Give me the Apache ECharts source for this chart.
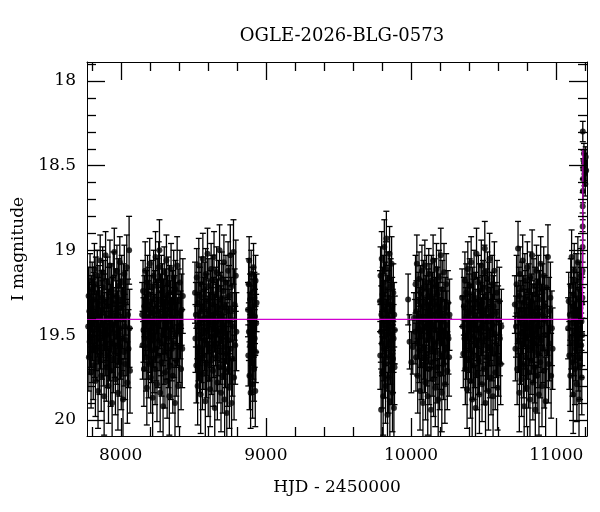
<!DOCTYPE html>
<html>
<head>
<meta charset="utf-8">
<script src="https://cdn.jsdelivr.net/npm/echarts@6.0.0/dist/echarts.min.js"></script>
<style>
  html, body { margin: 0; padding: 0; background: #fff; }
  #chart { width: 600px; height: 512px; }
</style>
</head>
<body>
<div id="chart"></div>
<script>
// OGLE I-band photometry: [HJD-2450000, I mag, error]
var season1 = [[7776,19.45,.18],[7779,19.27,.17],[7781,19.63,.2],[7784,19.36,.17],[7786,19.54,.19],[7789,19.18,.16],[7791,19.51,.18],[7794,19.40,.17],[7796,19.72,.21],[7799,19.31,.16],
  [7801,19.59,.19],[7804,19.23,.16],[7806,19.47,.18],[7809,19.34,.17],[7811,19.68,.2],[7814,19.29,.16],[7816,19.43,.17],[7819,19.11,.15],[7821,19.56,.19],[7824,19.38,.17],
  [7826,19.77,.21],[7829,19.20,.16],[7831,19.53,.18],[7834,19.41,.17],[7836,19.58,.19],[7839,19.15,.15],[7841,19.46,.17],[7844,19.83,.22],[7846,19.32,.16],[7849,19.49,.18],
  [7851,19.25,.16],[7854,19.65,.2],[7856,19.39,.17],[7859,19.06,.15],[7861,19.52,.18],[7864,19.44,.17],[7866,19.74,.21],[7869,19.28,.16],[7871,19.57,.19],[7874,19.35,.17],
  [7876,19.13,.15],[7879,19.48,.18],[7881,19.61,.19],[7884,19.22,.16],[7886,19.86,.23],[7889,19.42,.17],[7891,19.30,.16],[7894,19.55,.19],[7896,19.03,.14],[7899,19.47,.18],
  [7901,19.69,.2],[7904,19.33,.16],[7906,19.50,.18],[7909,19.19,.15],[7911,19.62,.19],[7914,19.40,.17],[7916,19.80,.22],[7919,19.26,.16],[7921,19.45,.17],[7924,19.58,.19],
  [7926,19.09,.15],[7929,19.37,.17],[7931,19.71,.21],[7934,19.43,.17],[7936,19.24,.16],[7939,19.54,.18],[7941,19.90,.24],[7944,19.32,.16],[7946,19.48,.18],[7949,19.16,.15],
  [7951,19.64,.2],[7954,19.39,.17],[7956,19.01,.14],[7959,19.56,.19],[7961,19.44,.17],[7964,19.76,.21],[7966,19.27,.16],[7969,19.51,.18],[7971,19.35,.17],[7974,19.12,.15],
  [7976,19.60,.19],[7979,19.41,.17],[7981,19.84,.22],[7984,19.21,.16],[7986,19.49,.18],[7989,19.30,.16],[7991,19.66,.2],[7994,19.07,.15],[7996,19.46,.18],[7999,19.57,.19],
  [8001,19.34,.17],[8004,19.73,.21],[8007,19.19,.16],[8010,19.52,.19],[8013,19.40,.18],[8016,19.88,.24],[8019,19.25,.17],[8022,19.60,.2],[8025,19.14,.17],[8028,19.45,.19],
  [8031,19.67,.21],[8034,19.31,.19],[8038,19.53,.21],[8042,19.10,.19],[8046,19.78,.24],[8050,19.38,.21],[8054,19.58,.23],[8058,19.00,.2],[8061,19.46,.23],[8064,19.71,.25]];

var season2 = [[8148,19.38,.19],[8151,19.56,.2],[8154,19.24,.18],[8157,19.47,.19],[8160,19.70,.22],[8163,19.33,.18],[8166,19.52,.19],[8169,19.12,.17],[8172,19.44,.18],[8175,19.63,.2],
  [8177,19.29,.17],[8180,19.81,.22],[8182,19.40,.17],[8185,19.19,.16],[8187,19.57,.19],[8190,19.35,.17],[8192,19.67,.2],[8195,19.26,.16],[8197,19.49,.18],[8200,19.08,.15],
  [8202,19.54,.18],[8205,19.42,.17],[8207,19.75,.21],[8210,19.31,.16],[8212,19.59,.19],[8215,19.22,.16],[8217,19.46,.17],[8220,19.87,.23],[8222,19.37,.17],[8225,19.51,.18],
  [8227,19.15,.15],[8230,19.64,.2],[8232,19.43,.17],[8235,19.28,.16],[8237,19.70,.21],[8240,19.04,.15],[8242,19.48,.18],[8245,19.58,.19],[8247,19.33,.16],[8250,19.79,.22],
  [8252,19.21,.16],[8255,19.45,.17],[8257,19.62,.19],[8260,19.36,.17],[8262,19.10,.15],[8265,19.53,.18],[8267,19.00,.18],[8270,19.41,.17],[8272,19.84,.23],[8275,19.30,.16],
  [8277,19.55,.19],[8280,19.18,.15],[8282,19.66,.2],[8285,19.39,.17],[8287,19.24,.16],[8290,19.50,.18],[8292,19.92,.24],[8295,19.34,.17],[8297,19.60,.19],[8300,19.13,.15],
  [8302,19.47,.18],[8305,19.72,.21],[8307,19.27,.16],[8310,19.44,.17],[8312,19.57,.19],[8315,19.06,.15],[8317,19.38,.17],[8320,19.77,.22],[8322,19.31,.16],[8325,19.52,.18],
  [8327,19.20,.16],[8330,19.61,.2],[8332,19.42,.17],[8335,19.86,.23],[8337,19.25,.16],[8340,19.49,.18],[8342,19.35,.17],[8345,19.68,.2],[8347,19.11,.15],[8350,19.46,.18],
  [8353,19.58,.19],[8356,19.29,.17],[8359,19.74,.22],[8362,19.40,.18],[8365,19.16,.16],[8368,19.55,.2],[8371,19.33,.18],[8374,19.90,.25],[8377,19.23,.17],[8380,19.50,.19],
  [8383,19.65,.21],[8386,19.37,.18],[8389,19.09,.17],[8392,19.48,.2],[8396,19.80,.24],[8400,19.30,.19],[8404,19.57,.21],[8408,19.19,.19],[8412,19.44,.2],[8416,19.70,.24],
  [8420,19.35,.21],[8424,19.58,.23],[8428,19.27,.22]];

var season3 = [[8512,19.25,.18],[8515,19.52,.2],[8518,19.38,.19],[8521,19.68,.22],[8524,19.16,.17],[8527,19.45,.19],[8530,19.80,.23],[8533,19.31,.18],[8536,19.57,.2],[8538,19.09,.16],
  [8541,19.43,.18],[8543,19.64,.2],[8546,19.27,.17],[8548,19.50,.18],[8551,19.85,.23],[8553,19.36,.17],[8556,19.20,.16],[8558,19.59,.19],[8561,19.41,.17],[8563,19.73,.21],
  [8566,19.05,.15],[8568,19.47,.18],[8571,19.33,.17],[8573,19.62,.2],[8576,19.23,.16],[8578,19.53,.18],[8581,19.40,.17],[8583,19.89,.24],[8586,19.14,.15],[8588,19.48,.18],
  [8591,19.67,.2],[8593,19.30,.16],[8596,19.55,.19],[8598,19.02,.15],[8601,19.44,.17],[8603,19.76,.22],[8606,19.35,.17],[8608,19.21,.16],[8611,19.58,.19],[8613,19.42,.17],
  [8616,19.82,.22],[8618,19.28,.16],[8621,19.51,.18],[8623,19.11,.15],[8626,19.65,.2],[8628,19.39,.17],[8631,19.46,.17],[8633,19.18,.15],[8636,19.71,.21],[8638,19.32,.16],
  [8641,19.56,.19],[8643,19.04,.15],[8646,19.43,.17],[8648,19.93,.25],[8651,19.26,.16],[8653,19.50,.18],[8656,19.37,.17],[8658,19.63,.2],[8661,19.13,.15],[8663,19.47,.18],
  [8666,19.78,.22],[8668,19.34,.17],[8671,19.55,.19],[8673,19.22,.16],[8676,19.41,.17],[8678,19.69,.21],[8681,19.00,.15],[8683,19.48,.18],[8686,19.29,.16],[8688,19.60,.19],
  [8691,19.84,.23],[8693,19.38,.17],[8696,19.17,.16],[8698,19.52,.18],[8701,19.44,.17],[8703,19.74,.22],[8706,19.24,.16],[8708,19.57,.19],[8711,19.07,.16],[8713,19.46,.18],
  [8716,19.88,.24],[8719,19.33,.17],[8722,19.61,.2],[8725,19.19,.16],[8728,19.49,.18],[8731,19.96,.26],[8734,19.36,.18],[8737,19.70,.22],[8740,19.12,.17],[8743,19.53,.2],
  [8746,19.27,.18],[8749,19.81,.24],[8752,19.42,.19],[8755,19.03,.18],[8758,19.58,.21],[8761,19.35,.19],[8764,19.90,.26],[8767,19.21,.19],[8770,19.64,.22],[8773,19.45,.2],
  [8777,19.01,.19],[8781,19.75,.25],[8785,19.32,.21],[8789,19.56,.23],[8793,19.15,.21],[8797,19.48,.23]];

var season4 = [[8877,19.35,.16],[8879,19.62,.18],[8881,19.20,.15],[8883,19.48,.17],[8885,19.06,.14],[8887,19.74,.2],[8889,19.41,.16],[8891,19.29,.15],[8893,19.56,.18],[8895,19.84,.21],
  [8897,19.37,.16],[8899,19.14,.14],[8901,19.51,.17],[8903,19.66,.19],[8905,19.25,.15],[8907,19.44,.16],[8909,19.79,.2],[8911,19.33,.16],[8913,19.58,.18],[8915,19.10,.14],
  [8917,19.46,.17],[8919,19.70,.19],[8921,19.28,.15],[8923,19.52,.17],[8925,19.39,.16],[8927,19.83,.21],[8929,19.18,.15],[8931,19.60,.18],[8933,19.43,.17],[8936,19.31,.17]];

var season5 = [[9786,19.30,.18],[9788,19.62,.2],[9790,19.15,.17],[9792,19.48,.18],[9794,19.94,.24],[9796,19.38,.17],[9798,19.05,.16],[9800,19.55,.19],[9802,19.72,.21],[9804,19.26,.16],
  [9806,19.44,.17],[9808,19.86,.23],[9810,19.19,.16],[9812,19.58,.19],[9814,19.35,.17],[9816,18.98,.16],[9818,19.67,.2],[9820,19.42,.17],[9822,19.23,.16],[9824,19.80,.22],
  [9826,19.50,.18],[9828,19.11,.16],[9830,18.93,.16],[9832,19.46,.17],[9834,19.63,.2],[9836,19.31,.16],[9838,19.97,.25],[9840,19.40,.17],[9842,19.17,.16],[9844,19.56,.19],
  [9846,19.75,.21],[9848,19.28,.16],[9850,19.49,.18],[9852,19.02,.16],[9854,19.89,.23],[9856,19.36,.17],[9858,19.60,.19],[9860,19.21,.16],[9862,19.45,.18],[9864,19.70,.21],
  [9866,19.08,.16],[9868,19.53,.19],[9870,19.33,.17],[9872,19.84,.23],[9874,19.41,.18],[9876,19.64,.2],[9878,19.25,.17],[9880,19.52,.2],[9882,19.93,.26],[9884,19.38,.19],
  [9886,19.69,.22],[9888,19.47,.2]];

var season6 = [[9980,19.29,.15],[9990,19.54,.16],[10002,19.66,.18],[10012,19.57,.16],[10020,19.40,.15],
  [10028,19.48,.19],[10031,19.20,.17],[10034,19.63,.2],[10037,19.36,.18],[10040,19.08,.17],[10043,19.55,.19],[10046,19.74,.22],[10049,19.30,.17],[10052,19.46,.18],[10055,19.17,.16],
  [10057,19.59,.19],[10060,19.39,.17],[10062,19.83,.23],[10065,19.25,.16],[10067,19.51,.18],[10070,19.42,.17],[10072,19.68,.2],[10075,19.12,.15],[10077,19.47,.18],[10080,19.33,.16],
  [10082,19.90,.24],[10085,19.22,.16],[10087,19.57,.19],[10090,19.40,.17],[10092,19.64,.2],[10095,19.09,.15],[10097,19.45,.17],[10100,19.78,.22],[10102,19.31,.16],[10105,19.53,.18],
  [10107,19.19,.16],[10110,19.61,.19],[10112,19.37,.17],[10115,19.86,.23],[10117,19.27,.16],[10120,19.49,.18],[10122,19.14,.15],[10125,19.70,.21],[10127,19.43,.17],[10130,19.24,.16],
  [10132,19.58,.19],[10135,19.35,.17],[10137,19.94,.25],[10140,19.18,.15],[10142,19.52,.18],[10145,19.66,.2],[10147,19.29,.16],[10150,19.44,.17],[10152,19.06,.15],[10155,19.76,.22],
  [10157,19.38,.17],[10160,19.56,.19],[10162,19.21,.16],[10165,19.47,.18],[10167,19.81,.23],[10170,19.32,.16],[10172,19.60,.19],[10175,19.11,.15],[10177,19.41,.17],[10180,19.69,.21],
  [10182,19.26,.16],[10185,19.54,.18],[10187,19.88,.24],[10190,19.36,.17],[10192,19.16,.16],[10195,19.50,.18],[10197,19.73,.21],[10200,19.30,.16],[10202,19.46,.18],[10205,19.03,.16],
  [10207,19.62,.2],[10210,19.39,.17],[10212,19.84,.23],[10215,19.23,.17],[10218,19.55,.19],[10221,19.42,.18],[10224,19.67,.21],[10227,19.13,.17],[10230,19.48,.19],[10233,19.79,.23],
  [10236,19.34,.18],[10239,19.58,.21],[10242,19.20,.18],[10246,19.44,.2],[10250,19.71,.23],[10254,19.31,.19],[10258,19.52,.21],[10262,19.63,.23],[10265,19.38,.21]];

var season7 = [[10352,19.28,.17],[10356,19.45,.18],[10360,19.61,.2],[10364,19.33,.17],[10368,19.52,.19],[10371,19.18,.17],[10374,19.70,.21],[10377,19.40,.18],[10380,19.25,.17],[10383,19.57,.19],
  [10386,19.82,.23],[10389,19.36,.17],[10391,19.11,.16],[10394,19.48,.18],[10396,19.64,.2],[10399,19.30,.16],[10401,19.54,.18],[10404,19.21,.16],[10406,19.43,.17],[10409,19.77,.22],
  [10411,19.37,.17],[10414,19.07,.15],[10416,19.59,.19],[10419,19.46,.18],[10421,19.88,.24],[10424,19.26,.16],[10426,19.51,.18],[10429,19.34,.17],[10431,19.68,.2],[10434,19.15,.15],
  [10436,19.44,.17],[10439,19.62,.19],[10441,19.29,.16],[10444,19.93,.25],[10446,19.40,.17],[10449,19.56,.19],[10451,19.02,.15],[10454,19.47,.18],[10456,19.73,.21],[10459,19.32,.16],
  [10461,19.53,.18],[10464,19.19,.16],[10466,19.65,.2],[10469,19.41,.17],[10471,19.85,.23],[10474,19.24,.16],[10476,19.49,.18],[10479,19.36,.17],[10481,19.60,.19],[10484,19.09,.15],
  [10486,19.45,.17],[10489,19.79,.22],[10491,19.31,.16],[10494,19.55,.19],[10496,19.22,.16],[10499,19.43,.17],[10501,19.70,.21],[10504,19.38,.17],[10506,19.13,.16],[10508,18.99,.16],
  [10511,19.52,.18],[10513,19.90,.24],[10516,19.27,.16],[10518,19.46,.18],[10521,19.63,.2],[10523,19.35,.17],[10526,19.17,.16],[10528,19.57,.19],[10531,19.42,.17],[10533,19.83,.23],
  [10536,19.23,.16],[10538,19.50,.18],[10541,19.05,.15],[10543,19.67,.2],[10546,19.39,.17],[10548,19.47,.18],[10551,19.75,.22],[10553,19.30,.17],[10556,19.58,.19],[10559,19.20,.17],
  [10562,19.44,.18],[10565,19.86,.24],[10568,19.33,.18],[10571,19.61,.2],[10574,19.12,.17],[10577,19.49,.19],[10580,19.72,.22],[10584,19.37,.18],[10588,19.55,.2],[10592,19.25,.19],
  [10596,19.81,.25],[10600,19.41,.2],[10604,19.64,.22],[10608,19.30,.2],[10612,19.52,.22],[10617,19.67,.24],[10622,19.45,.22]];

var season8 = [[10715,19.32,.17],[10719,19.58,.19],[10723,19.45,.18],[10727,19.20,.17],[10731,19.70,.21],[10735,19.38,.17],[10737,18.99,.16],[10740,19.53,.19],[10743,19.27,.17],[10746,19.84,.23],
  [10749,19.41,.17],[10751,19.14,.16],[10754,19.60,.19],[10756,19.35,.17],[10759,19.49,.18],[10761,19.76,.22],[10764,19.23,.16],[10766,19.55,.19],[10769,19.06,.15],[10771,19.44,.17],
  [10774,19.67,.2],[10776,19.31,.16],[10779,19.92,.25],[10781,19.40,.17],[10784,19.18,.16],[10786,19.52,.18],[10789,19.63,.2],[10791,19.28,.16],[10794,19.46,.18],[10796,19.81,.23],
  [10799,19.36,.17],[10801,19.10,.15],[10804,19.57,.19],[10806,19.43,.17],[10809,19.72,.21],[10811,19.24,.16],[10814,19.50,.18],[10816,19.33,.17],[10819,19.88,.24],[10821,19.16,.15],
  [10824,19.47,.18],[10826,19.65,.2],[10829,19.30,.16],[10831,19.54,.19],[10834,19.03,.15],[10836,19.42,.17],[10839,19.78,.22],[10841,19.37,.17],[10844,19.59,.19],[10846,19.21,.16],
  [10849,19.48,.18],[10851,19.69,.21],[10854,19.26,.16],[10856,19.94,.26],[10859,19.39,.17],[10861,19.56,.19],[10864,19.12,.15],[10866,19.45,.18],[10869,19.74,.22],[10871,19.34,.17],
  [10874,19.61,.2],[10876,19.19,.16],[10879,19.51,.18],[10881,19.85,.24],[10884,19.29,.17],[10887,19.44,.18],[10890,19.66,.21],[10893,19.08,.16],[10896,19.53,.19],[10899,19.38,.18],
  [10902,19.80,.24],[10905,19.25,.17],[10908,19.58,.2],[10911,19.41,.18],[10914,19.15,.17],[10917,19.71,.22],[10920,19.33,.18],[10923,19.50,.2],[10927,19.89,.26],[10931,19.22,.19],
  [10935,19.60,.21],[10939,19.42,.2],[10943,19.04,.19],[10947,19.67,.23],[10951,19.36,.2],[10955,19.55,.22],[10960,19.28,.21],[10965,19.74,.25],[10970,19.46,.22],[10975,19.58,.24]];

var season9 = [[11082,19.46,.18],[11086,19.30,.17],[11090,19.62,.2],[11094,19.38,.18],[11097,19.74,.21],[11100,19.21,.16],[11103,19.51,.19],[11106,19.04,.16],[11109,19.43,.18],[11112,19.66,.2],
  [11114,19.33,.17],[11117,19.85,.23],[11119,19.26,.16],[11122,19.55,.19],[11124,19.12,.16],[11127,19.48,.18],[11129,19.70,.21],[11132,19.36,.17],[11134,19.58,.19],[11137,19.18,.16],
  [11139,19.44,.17],[11142,19.79,.22],[11144,19.29,.16],[11147,19.52,.18],[11149,19.07,.15],[11152,19.63,.2],[11154,19.40,.17],[11157,19.88,.24],[11159,19.23,.16],[11162,19.47,.18],
  [11164,19.68,.2],[11167,19.34,.17],[11169,19.15,.16],[11172,19.56,.19],[11174,19.42,.17],[11176,19.75,.22],[11178,19.31,.17],[11179,19.50,.18]];

// rising part of the event
var eventObs = [[11180,19.28,.12],[11181,19.12,.1],[11181.5,18.98,.09],[11182,18.86,.08],[11182.5,18.74,.08],[11183,18.30,.06],[11183.5,18.65,.07],[11184,18.58,.07],
  [11186,18.52,.06],[11188,18.47,.06],[11191,18.43,.06],[11194,18.55,.07],[11197,18.49,.06],[11200,18.61,.07],[11203,18.45,.06],[11206,18.53,.06]];

// model curve (magenta)
var modelT = [7768, 11181, 11182, 11183, 11184];
var modelM = [19.408, 19.408, 19.2, 18.8, 18.40];

// axes
var xMin = 7768, xMax = 11212;
var yMin = 17.89, yMax = 20.095;
var xMajor = [8000, 9000, 10000, 11000];
var xMinor = [7800, 8200, 8400, 8600, 8800, 9200, 9400, 9600, 9800, 10200, 10400, 10600, 10800, 11200];
var yMajor = [18, 18.5, 19, 19.5, 20];
var yMinor = [17.9, 18.1, 18.2, 18.3, 18.4, 18.6, 18.7, 18.8, 18.9, 19.1, 19.2, 19.3, 19.4, 19.6, 19.7, 19.8, 19.9];

var font = 'DejaVu Serif';
var majorLen = 18, minorLen = 9;
var allObs = [].concat(season1, season2, season3, season4, season5, season6, season7, season8, season9, eventObs);
var model = modelT.map(function (t, i) { return [t, modelM[i]]; });

function xAxisOf(pos, withLabels) {
  var ax = {
    type: 'value', position: pos, min: xMin, max: xMax, splitNumber: 4,
    splitLine: { show: false },
    axisLine: { show: true, onZero: false, lineStyle: { color: '#000', width: 1 } },
    axisTick: { show: false },
    axisLabel: { show: false }
  };
  if (withLabels) {
    ax.axisLabel = {
      show: true, customValues: xMajor, margin: 11, color: '#000', fontFamily: font, fontSize: 17,
      formatter: function (v) { return String(v); }
    };
    ax.name = 'HJD - 2450000';
    ax.nameLocation = 'middle';
    ax.nameGap = 43;
    ax.nameTextStyle = { color: '#000', fontFamily: font, fontSize: 17 };
  }
  return ax;
}

function yAxisOf(pos, withLabels) {
  var ax = {
    type: 'value', position: pos, min: yMin, max: yMax, inverse: true,
    splitLine: { show: false },
    axisLine: { show: true, onZero: false, lineStyle: { color: '#000', width: 1 } },
    axisTick: { show: false },
    axisLabel: { show: false }
  };
  if (withLabels) {
    ax.axisLabel = { show: true, customValues: yMajor, margin: 11, color: '#000', fontFamily: font, fontSize: 17 };
    ax.name = 'I magnitude';
    ax.nameLocation = 'middle';
    ax.nameRotate = 90;
    ax.nameGap = 40;
    ax.nameTextStyle = { color: '#000', fontFamily: font, fontSize: 17 };
  }
  return ax;
}

function renderErr(params, api) {
  var t = api.value(0), m = api.value(1), e = api.value(2);
  var hi = api.coord([t, m - e]);
  var lo = api.coord([t, m + e]);
  var x = hi[0], w = 3;
  var st = { stroke: '#000', lineWidth: 1.3 };
  return {
    type: 'group',
    children: [
      { type: 'line', shape: { x1: x, y1: hi[1], x2: x, y2: lo[1] }, style: st },
      { type: 'line', shape: { x1: x - w, y1: hi[1], x2: x + w, y2: hi[1] }, style: st },
      { type: 'line', shape: { x1: x - w, y1: lo[1], x2: x + w, y2: lo[1] }, style: st }
    ]
  };
}

var chart = echarts.init(document.getElementById('chart'), null, { renderer: 'canvas' });
chart.setOption({
  animation: false,
  backgroundColor: '#fff',
  title: {
    text: 'OGLE-2026-BLG-0573',
    left: 337, top: 22, textAlign: 'center',
    textStyle: { color: '#000', fontFamily: font, fontSize: 18, fontWeight: 'normal' }
  },
  grid: { left: 87, right: 13, top: 62, bottom: 76 },
  xAxis: [xAxisOf('bottom', true), xAxisOf('top', false)],
  yAxis: [yAxisOf('left', true), yAxisOf('right', false)],
  series: [{
    type: 'custom',
    renderItem: renderErr,
    data: allObs,
    clip: true,
    z: 2
  }, {
    type: 'scatter',
    data: allObs,
    symbol: 'circle',
    symbolSize: 6,
    itemStyle: { color: '#000' },
    clip: true,
    z: 3
  }, {
    type: 'line',
    data: model,
    showSymbol: false,
    symbol: 'none',
    lineStyle: { color: '#d000d0', width: 1.2 },
    clip: true,
    z: 4
  }]
});

// inward ticks on all four sides, placed with the chart's own axis scales
function tickLine(x1, y1, x2, y2) {
  return { type: 'line', silent: true, z: 10, shape: { x1: x1, y1: y1, x2: x2, y2: y2 }, style: { stroke: '#000', lineWidth: 1.3 } };
}
var corner0 = chart.convertToPixel({ xAxisIndex: 0, yAxisIndex: 0 }, [xMin, yMin]);
var corner1 = chart.convertToPixel({ xAxisIndex: 0, yAxisIndex: 0 }, [xMax, yMax]);
var boxL = corner0[0], boxT = corner0[1], boxR = corner1[0], boxB = corner1[1];
var ticks = [];
function addX(v, len) {
  var x = Math.round(chart.convertToPixel({ xAxisIndex: 0 }, v)) + 0.5;
  ticks.push(tickLine(x, boxB, x, boxB - len), tickLine(x, boxT, x, boxT + len));
}
function addY(v, len) {
  var y = Math.round(chart.convertToPixel({ yAxisIndex: 0 }, v)) + 0.5;
  ticks.push(tickLine(boxL, y, boxL + len, y), tickLine(boxR, y, boxR - len, y));
}
xMajor.forEach(function (v) { addX(v, majorLen); });
xMinor.forEach(function (v) { addX(v, minorLen); });
yMajor.forEach(function (v) { addY(v, majorLen); });
yMinor.forEach(function (v) { addY(v, minorLen); });
chart.setOption({ graphic: { elements: ticks } });
</script>
</body>
</html>
